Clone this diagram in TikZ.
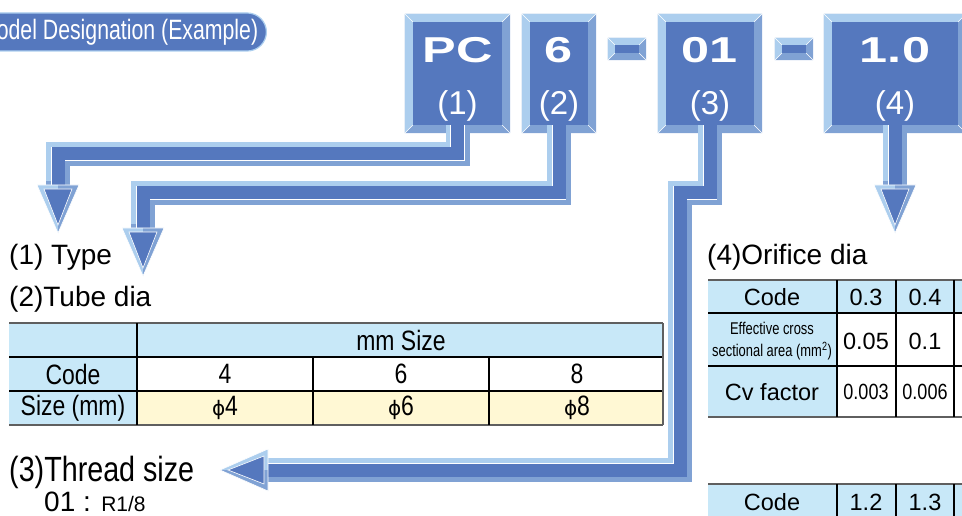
\documentclass[tikz,border=0pt]{standalone}
\usepackage{fontspec}
\setmainfont{Liberation Sans}
\newfontfamily\narrowfont[FakeStretch=0.82]{Liberation Sans}
\newfontfamily\titlefont[FakeStretch=0.76]{Liberation Sans}
\newfontfamily\widefont[FakeStretch=1.4]{Liberation Sans}
\newfontfamily\phifont{DejaVu Sans}
\usetikzlibrary{calc}
\usetikzlibrary{positioning}
\usetikzlibrary{shapes.misc}

\definecolor{boxblue}{RGB}{85,120,190}
\definecolor{bevlight}{RGB}{172,206,238}
\definecolor{bevmid}{RGB}{128,162,212}
\definecolor{cellblue}{RGB}{200,232,248}
\definecolor{cellyellow}{RGB}{255,248,212}
\definecolor{rulegray}{RGB}{95,95,95}

\tikzstyle{codebox}=[fill=boxblue, inner sep=0pt, minimum height=103pt]
\tikzstyle{codetext}=[text=white, inner sep=0pt, font=\widefont\bfseries\fontsize{36}{40}\selectfont]
\tikzstyle{numtext}=[text=white, inner sep=0pt, font=\fontsize{33}{36}\selectfont]
\tikzstyle{dashbox}=[fill=boxblue, inner sep=0pt, minimum width=24pt, minimum height=8pt]
\tikzstyle{titlepill}=[rounded rectangle, rounded rectangle west arc=none, fill=boxblue, draw=bevlight, line width=1.2pt, text=white, minimum height=38pt, inner xsep=3pt, font=\titlefont\fontsize{28}{30}\selectfont]
\tikzstyle{heading}=[anchor=base west, inner sep=0pt, font=\fontsize{28}{32}\selectfont]
\tikzstyle{cell}=[inner sep=0pt, font=\narrowfont\fontsize{28}{32}\selectfont]
\tikzstyle{cellr}=[inner sep=0pt, font=\fontsize{23.5}{28}\selectfont]
\tikzstyle{cellsmall}=[inner sep=0pt, align=center, font=\titlefont\fontsize{17}{22}\selectfont]
\tikzstyle{rule} = [draw=black, line width=1.2pt]
\tikzstyle{softrule} = [draw=rulegray, line width=1.2pt]
\tikzstyle{shaftmid}=[draw=bevmid, line width=24pt, line join=miter]
\tikzstyle{shaftlight}=[draw=bevlight, line width=17pt, line join=miter]
\tikzstyle{shaftcore}=[draw=boxblue, line width=13pt, line join=miter]

% bevelled frame round a node
\newcommand{\bevel}[2]{%
  \fill[bevmid, even odd rule] ($(#1.north west)+(-#2,-#2)$) rectangle ($(#1.south east)+(#2,#2)$)
    (#1.north west) rectangle (#1.south east);
  \fill[bevlight] ($(#1.north west)+(-#2,-#2)$) -- ($(#1.north east)+(#2,-#2)$) -- (#1.north east)
    -- (#1.north west) -- (#1.south west) -- ($(#1.south west)+(-#2,#2)$) -- cycle;
  \foreach \a/\dx/\dy in {north west/-1/-1, north east/1/-1, south east/1/1, south west/-1/1}
    \draw[white, line width=0.6pt] (#1.\a) -- ++(\dx*#2,\dy*#2);
}
% thick 3d shaft: start, rest of path
\newcommand{\fatshaft}[2]{%
  \draw[shaftmid] #1 #2;
  \draw[shaftlight, transform canvas={shift={(-3.5,-3.5)}}] ($#1+(0,3.5)$) #2;
  \draw[white, line width=14.2pt, line join=miter] #1 #2;
  \draw[shaftcore] #1 #2;
}
% 3d head: base point, rotation
\newcommand{\fathead}[2]{%
  \begin{scope}[shift={#1}, rotate=#2]
    \fill[bevlight] (-21,0) -- (0,0) -- (0,48) -- cycle;
    \fill[bevmid] (0,0) -- (21,0) -- (0,48) -- cycle;
    \draw[white, line width=0.6pt, fill=boxblue] (-14,4) -- (14,4) -- (0,40) -- cycle;
    \draw[white, line width=0.6pt] (-21,0) -- (21,0) -- (0,48) -- cycle;
  \end{scope}
}

\begin{document}
\begin{tikzpicture}[x=1pt, y=-1pt]
  \useasboundingbox (0,0) rectangle (962,516);
  \clip (0,0) rectangle (962,516);

  \node[titlepill, anchor=east] (title) at (267,32) {Model Designation (Example)};

  % code boxes
  \foreach \name/\x/\w/\code/\num in {pc/457.5/89/PC/1, six/559/58/6/2, zero/710/88/01/3, onezero/895/126/1.0/4} {
    \node[codebox, minimum width=\w pt] (\name) at (\x,73.5) {};
    \bevel{\name}{8}
    \node[codetext] (\name code) at (\x,50) {\code};
    \node[numtext] (\name num) at (\x,106) {(\num)};
  }
  \foreach \name/\x in {dasha/627, dashb/794} {
    \node[dashbox] (\name) at (\x,49) {};
    \bevel{\name}{7}
  }

  % arrows
  \coordinate (e1) at (58,154);   \coordinate (b1) at (58,185);
  \coordinate (e2) at (143,193);  \coordinate (b2) at (143,228);
  \coordinate (e3) at (680,193);  \coordinate (b3) at (268,470);
  \coordinate (b4) at (895,185);
  \fatshaft{(pc.south)}{|- (e1) -- (b1)}
  \fatshaft{(six.south)}{|- (e2) -- (b2)}
  \fatshaft{(zero.south)}{|- (e3) |- (b3)}
  \fatshaft{(onezero.south)}{-- (b4)}
  \foreach \b/\r in {b1/0, b2/0, b3/-90, b4/0} {
    \fathead{(\b)}{\r}
  }

  % headings
  \node[heading] (type) at (9,264) {(1) Type};
  \node[heading] (tube) at (9,306) {(2)Tube dia};
  \node[heading] (orifice) at (707,265) {(4)Orifice dia};
  \node[heading, font=\narrowfont\fontsize{35}{40}\selectfont] (thread) at (9,481) {(3)Thread size};
  \node[anchor=base west, inner sep=0pt] (thread01) at (44,511)
    {\fontsize{28}{30}\selectfont 01 : \fontsize{21}{24}\selectfont R1/8};

  % tube dia table
  \fill[cellblue] (9,323) rectangle (663,357);
  \fill[cellblue] (9,357) rectangle (137,425);
  \fill[cellyellow] (137,391) rectangle (663,425);
  \draw[softrule] (9,323) -- (663,323);
  \draw[rule] (9,357) -- (663,357);
  \draw[rule] (9,391) -- (663,391);
  \draw[softrule, line width=1.8pt] (9,425) -- (663,425);
  \draw[rule] (137,323) -- (137,425);
  \foreach \x in {313,489}
    \draw[rule] (\x,357) -- (\x,425);
  \draw[softrule] (663,323) -- (663,425);
  \node[cell] (mmsize) at (401,340) {mm Size};
  \node[cell] (tcode) at (73,374) {Code};
  \node[cell] (tsize) at (73,408) {Size (mm)};
  \foreach \x/\v [count=\i] in {225/4, 401/6, 577/8} {
    \node[cell] (tc\i) at (\x,374) {\v};
    \node[cell] (ts\i) at (\x,408) {{\phifont\fontsize{20}{24}\selectfont\char"03D5}\v};
  }

  % orifice table
  \fill[cellblue] (708,280) rectangle (970,313);
  \fill[cellblue] (708,313) rectangle (837,417);
  \draw[softrule] (708,280) -- (970,280);
  \draw[rule] (708,313) -- (970,313);
  \draw[rule] (708,366) -- (970,366);
  \draw[softrule, line width=1.8pt] (708,417) -- (970,417);
  \foreach \x in {837,896,954}
    \draw[rule] (\x,280) -- (\x,417);
  \node[cellr] (ocode) at (772,297) {Code};
  \node[cellsmall] (oarea) at (772,341) {Effective cross\\sectional area (mm\textsuperscript{2})};
  \node[cellr] (ocv) at (772,392) {Cv factor};
  \foreach \x/\c/\a/\v [count=\i] in {866/0.3/0.05/0.003, 925/0.4/0.1/0.006} {
    \node[cellr] (oc\i) at (\x,297) {\c};
    \node[cellr] (oa\i) at (\x,341) {\a};
    \node[cellr, font=\narrowfont\fontsize{22}{26}\selectfont] (ov\i) at (\x,392) {\v};
  }

  % second orifice table
  \fill[cellblue] (708,484) rectangle (970,520);
  \draw[softrule] (708,484) -- (970,484);
  \foreach \x in {837,896,954}
    \draw[rule] (\x,484) -- (\x,520);
  \node[cellr] (pcode) at (772,502) {Code};
  \node[cellr] (pc1) at (866,502) {1.2};
  \node[cellr] (pc2) at (925,502) {1.3};
\end{tikzpicture}
\end{document}
